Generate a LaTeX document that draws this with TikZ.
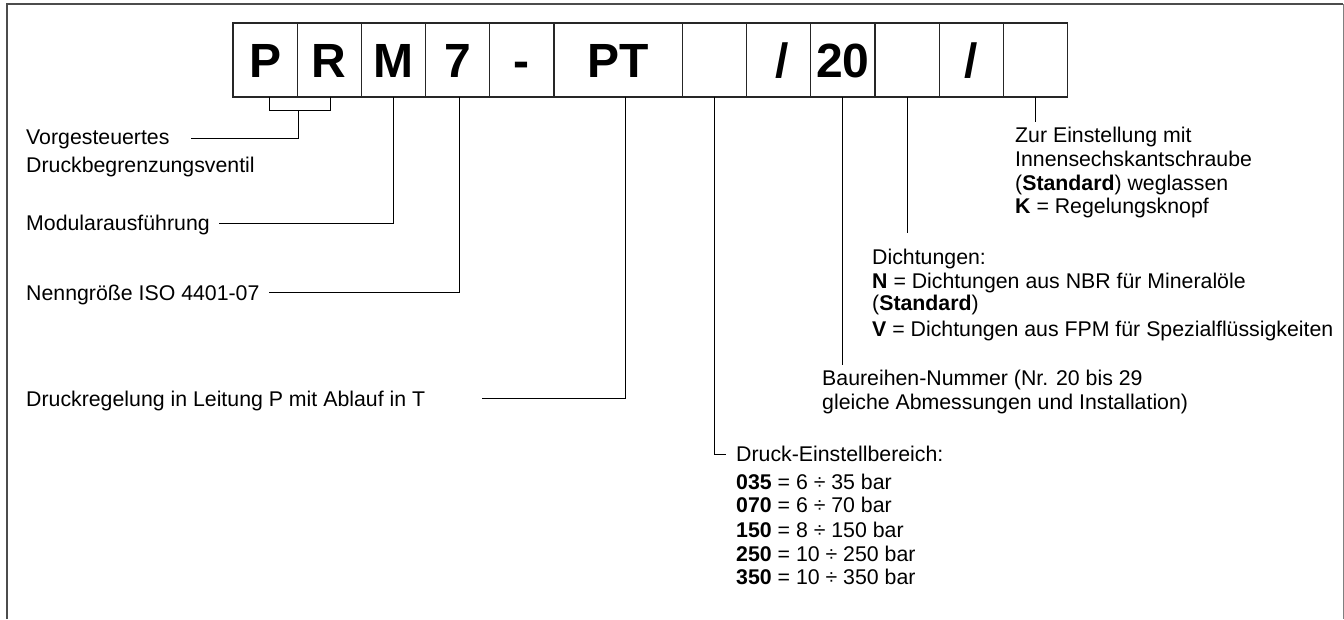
\documentclass[tikz,border=0pt]{standalone}
\usepackage{fontspec}
\setmainfont{Liberation Sans}
\begin{document}
\begin{tikzpicture}[x=1pt,y=-1pt,
  box/.style={draw=black!85, line width=1.3pt, minimum width=64.2pt, minimum height=74pt,
    inner sep=0pt, outer sep=0pt, anchor=north west, text height=34.4pt, text depth=0pt,
    font=\fontsize{48}{48}\selectfont\bfseries},
  lbl/.style={inner sep=0pt, anchor=base west, font=\fontsize{21.3}{24}\selectfont},
  conn/.style={draw=black, line width=1pt},
  frame/.style={draw=black!70, line width=2pt}]
\useasboundingbox (0,0) rectangle (1344,619);
% frame
\draw[frame] (7,619) -- (7,4) -- (1343,4);
\draw[draw=black!50, line width=1pt] (1343,4) -- (1343,619);
% code boxes
\node[box] (b1) at (233,23) {P};
\node[box] (b2) at (b1.north east) {R};
\node[box] (b3) at (b2.north east) {M};
\node[box] (b4) at (b3.north east) {7};
\node[box] (b5) at (b4.north east) {-};
\node[box, minimum width=128.4pt] (b6) at (b5.north east) {PT};
\node[box] (b7) at (b6.north east) {};
\node[box] (b8) at (b7.north east) {\hspace*{7pt}/};
\node[box] (b9) at (b8.north east) {20};
\node[box] (b10) at (b9.north east) {};
\node[box] (b11) at (b10.north east) {/};
\node[box] (b12) at (b11.north east) {};
% left labels
\node[lbl] (vorg) at (26,144.5) {Vorgesteuertes};
\node[lbl] (druckb) at (26,172.7) {Druckbegrenzungsventil};
\node[lbl] (modul) at (26,230.5) {Modularausführung};
\node[lbl] (nenn) at (26,300) {Nenngröße ISO 4401-07};
\node[lbl] (dreg) at (26,406) {Druckregelung in Leitung P mit Ablauf in T};
% right labels
\node[lbl] (zur1) at (1015,142.7) {Zur Einstellung mit};
\node[lbl] (zur2) at (1015,166) {Innensechskantschraube};
\node[lbl] (zur3) at (1015,190) {(\textbf{Standard}) weglassen};
\node[lbl] (zur4) at (1015,213.7) {\textbf{K} = Regelungsknopf};
\node[lbl] (di1) at (872,264.7) {Dichtungen:};
\node[lbl] (di2) at (872,288.7) {\textbf{N} = Dichtungen aus NBR für Mineralöle};
\node[lbl] (di3) at (872,310.7) {(\textbf{Standard})};
\node[lbl] (di4) at (872,336.7) {\textbf{V} = Dichtungen aus FPM für Spezialflüssigkeiten};
\node[lbl] (ba1) at (822,385) {Baureihen-Nummer (Nr. 20 bis 29};
\node[lbl] (ba2) at (822,409) {gleiche Abmessungen und Installation)};
\node[lbl] (dr0) at (736,461) {Druck-Einstellbereich:};
\node[lbl] (dr1) at (736,489.4) {\textbf{035} = 6 ÷ 35 bar};
\node[lbl] (dr2) at (736,512.7) {\textbf{070} = 6 ÷ 70 bar};
\node[lbl] (dr3) at (736,537) {\textbf{150} = 8 ÷ 150 bar};
\node[lbl] (dr4) at (736,561) {\textbf{250} = 10 ÷ 250 bar};
\node[lbl] (dr5) at (736,584.4) {\textbf{350} = 10 ÷ 350 bar};
% connector ends
\coordinate (cVorg) at (191,138.3);
\coordinate (brk) at (298,110);
\coordinate (cMod) at (219,223.3);
\coordinate (cNenn) at (269,292);
\coordinate (cDreg) at (482,398.3);
\coordinate (cDruck) at (726,454);
% connectors
\draw[conn] ([xshift=4pt]b1.south) -- ++(0,13) -| ([xshift=1pt]b2.south);
\draw[conn] (brk) |- (cVorg);
\draw[conn] (b3.south) |- (cMod);
\draw[conn] ([xshift=2pt]b4.south) |- (cNenn);
\draw[conn] ([xshift=7pt]b6.south) |- (cDreg);
\draw[conn] (b7.south) |- (cDruck);
\draw[conn] (b9.south) -- ++(0,268);
\draw[conn] (b10.south) -- ++(0,136);
\draw[conn] (b12.south) -- ++(0,25);
\end{tikzpicture}
\end{document}
